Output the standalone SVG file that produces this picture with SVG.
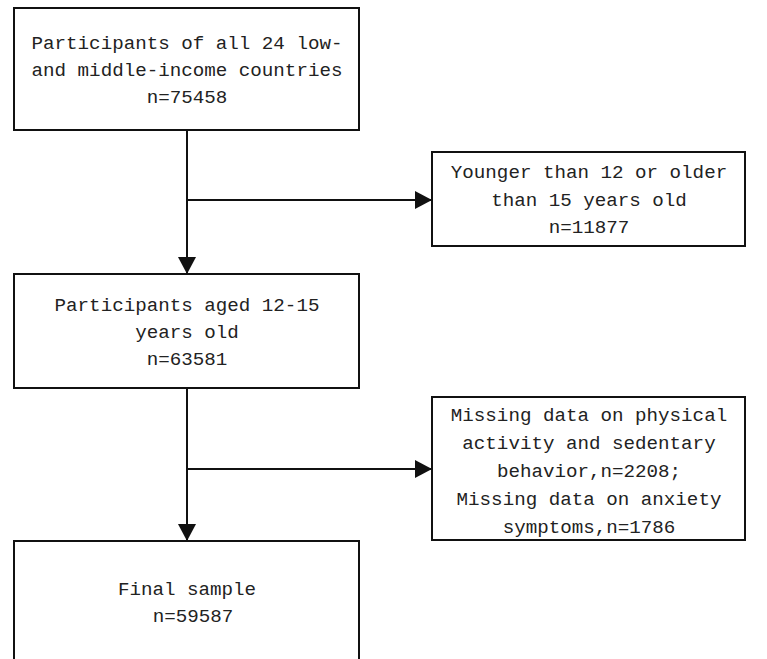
<svg xmlns="http://www.w3.org/2000/svg" width="767" height="659" viewBox="0 0 767 659">
<defs>
<style>
.box{fill:#fff;stroke:#111;stroke-width:2}
.t{font-family:"Liberation Mono","DejaVu Sans Mono",monospace;font-size:19.2px;fill:#222;text-anchor:middle}
.c{stroke:#111;stroke-width:2;fill:none}
</style>
<marker id="ah" markerUnits="userSpaceOnUse" markerWidth="18" markerHeight="18" refX="17" refY="9" orient="auto">
<path d="M0,0 L17,9 L0,18 Z" fill="#111"/>
</marker>
</defs>
<rect width="767" height="659" fill="#fff"/>
<g id="connectors">
<line class="c" x1="187" y1="130" x2="187" y2="274" marker-end="url(#ah)"/>
<line class="c" x1="187" y1="200" x2="432" y2="200" marker-end="url(#ah)"/>
<line class="c" x1="187" y1="388" x2="187" y2="541" marker-end="url(#ah)"/>
<line class="c" x1="187" y1="469" x2="432" y2="469" marker-end="url(#ah)"/>
</g>
<g id="n1">
<rect class="box" x="14" y="8" width="345" height="122"/>
<text class="t" x="187" y="49">Participants of all 24 low-</text>
<text class="t" x="187" y="76">and middle-income countries</text>
<text class="t" x="187" y="103">n=75458</text>
</g>
<g id="n2">
<rect class="box" x="432" y="152" width="313" height="94"/>
<text class="t" x="589" y="178">Younger than 12 or older</text>
<text class="t" x="589" y="206">than 15 years old</text>
<text class="t" x="589" y="233">n=11877</text>
</g>
<g id="n3">
<rect class="box" x="14" y="274" width="345" height="114"/>
<text class="t" x="187" y="311">Participants aged 12-15</text>
<text class="t" x="187" y="338">years old</text>
<text class="t" x="187" y="365">n=63581</text>
</g>
<g id="n4">
<rect class="box" x="432" y="397" width="313" height="143"/>
<text class="t" x="589" y="421">Missing data on physical</text>
<text class="t" x="589" y="449">activity and sedentary</text>
<text class="t" x="589" y="477">behavior,n=2208;</text>
<text class="t" x="589" y="505">Missing data on anxiety</text>
<text class="t" x="589" y="533">symptoms,n=1786</text>
</g>
<g id="n5">
<rect class="box" x="14" y="541" width="345" height="140"/>
<text class="t" x="187" y="595">Final sample</text>
<text class="t" x="193" y="622">n=59587</text>
</g>
</svg>
